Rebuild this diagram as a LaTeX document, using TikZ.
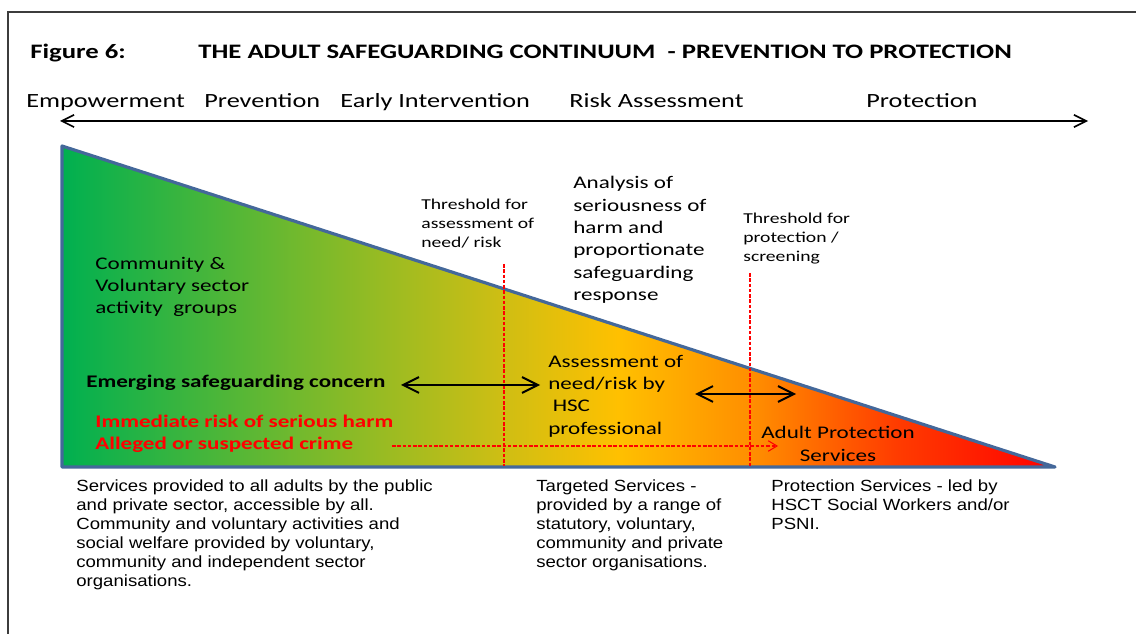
\documentclass[tikz,border=0pt]{standalone}
\usepackage{fontspec}
\setmainfont{Carlito}[FakeStretch=1.3]
\newfontfamily\arialfont{Liberation Sans}[FakeStretch=1.15]
\usetikzlibrary{arrows.meta}

\definecolor{rahmen}{RGB}{60,60,60}
\definecolor{kante}{RGB}{68,104,154}
\definecolor{gruen}{RGB}{0,176,80}
\definecolor{hellgruen}{RGB}{115,185,45}
\definecolor{oliv}{RGB}{205,190,20}
\definecolor{gold}{RGB}{255,192,0}
\definecolor{orangeton}{RGB}{255,140,0}
\definecolor{rotorange}{RGB}{255,60,0}
\definecolor{rot}{RGB}{255,0,0}

\pgfdeclarehorizontalshading{kontinuum}{100bp}{color(0bp)=(gruen); color(25bp)=(gruen);
  color(37bp)=(hellgruen); color(47bp)=(oliv); color(53bp)=(gold); color(60bp)=(orangeton);
  color(67bp)=(rotorange); color(75bp)=(rot); color(100bp)=(rot)}

\tikzset{
  titel/.style={font=\bfseries\fontsize{11.7}{13}\selectfont, inner sep=0pt},
  phase/.style={font=\fontsize{11.5}{13}\selectfont, inner sep=0pt},
  inhalt/.style={font=\fontsize{10.1}{12.7}\selectfont, align=left, inner sep=0pt},
  schwelle/.style={font=\fontsize{8.6}{10.8}\selectfont, align=left, inner sep=0pt},
  fett/.style={font=\bfseries\fontsize{10.1}{12.5}\selectfont, align=left, inner sep=0pt},
  dienst/.style={font=\arialfont\fontsize{9.2}{10.9}\selectfont, align=left, inner sep=0pt},
  schwellenlinie/.style={red, line width=0.6pt, dash pattern=on 2pt off 1pt},
  doppelpfeil/.style={{Straight Barb[length=9pt,width=9pt]}-{Straight Barb[length=9pt,width=9pt]}, line width=1.1pt},
}

\begin{document}
\begin{tikzpicture}[x=0.02cm,y=-0.02cm]
        \useasboundingbox (0,0) rectangle (1136,634);

        % Rahmen
        \coordinate (rahmenU) at (8,634);
        \coordinate (rahmenO) at (8,12);
        \coordinate (rahmenR) at (1136,12);
        \draw[rahmen, line width=1pt] (rahmenU) -- (rahmenO) -- (rahmenR);

        % Titel
        \node[titel, anchor=base west] (fig) at (30,59) {Figure 6:};
        \node[titel, anchor=base west] (ueberschrift) at (198,59) {THE ADULT SAFEGUARDING CONTINUUM\ \ - PREVENTION TO PROTECTION};

        % Phasen und Achse
        \foreach \x/\name/\txt in {26/emp/Empowerment, 204/prev/Prevention, 340/early/Early Intervention, 569/risk/Risk Assessment, 866/prot/Protection}
            \node[phase, anchor=base west] (\name) at (\x,108) {\txt};
        \coordinate (achseL) at (60,121);
        \coordinate (achseR) at (1088,121);
        \draw[{Straight Barb[length=7pt,width=7pt]}-{Straight Barb[length=7pt,width=7pt]}, line width=0.9pt] (achseL) -- (achseR);

        % Dreieck mit Farbverlauf
        \coordinate (spitze) at (62,146);
        \coordinate (linksunten) at (62,467);
        \coordinate (rechtsunten) at (1055,467);
        \shade[shading=kontinuum] (spitze) -- (linksunten) -- (rechtsunten) -- cycle;
        \draw[kante, line width=1.8pt, line join=round] (spitze) -- (linksunten) -- (rechtsunten) -- cycle;

        % Schwellen
        \coordinate (s1o) at (504,264);
        \coordinate (s1u) at (504,466);
        \coordinate (s2o) at (750,273);
        \coordinate (s2u) at (750,466);
        \draw[schwellenlinie] (s1o) -- (s1u);
        \draw[schwellenlinie] (s2o) -- (s2u);

        % Texte im Dreieck
        \node[inhalt, anchor=west] (gruppen) at (95,287) {Community \&\\Voluntary sector\\activity\ \ groups};
        \node[fett, anchor=west] (concern) at (86,383) {Emerging safeguarding concern};
        \node[fett, text=red, anchor=west] (harm) at (95,434) {Immediate risk of serious harm\\Alleged or suspected crime};
        \node[inhalt, anchor=west] (assess) at (548,396) {Assessment of\\need/risk by\\\hspace*{2.5pt}HSC\\professional};
        \node[inhalt, align=center] (aps) at (838,444) {Adult Protection\\Services};

        % Texte oberhalb
        \node[schwelle, anchor=west] (schwelle1) at (421,224) {Threshold for\\assessment of\\need/ risk};
        \node[inhalt, anchor=west] (analyse) at (573,240) {Analysis of\\seriousness of\\harm and\\proportionate\\safeguarding\\response};
        \node[schwelle, anchor=west] (schwelle2) at (743,239) {Threshold for\\protection /\\screening};

        % Pfeile
        \coordinate (c1) at (401,385);
        \coordinate (c2) at (540,385);
        \coordinate (c3) at (695,394);
        \coordinate (c4) at (796,394);
        \draw[doppelpfeil] (c1) -- (c2);
        \draw[doppelpfeil] (c3) -- (c4);
        \coordinate (r1) at (392,446);
        \coordinate (r2) at (778,446);
        \draw[schwellenlinie, -{Straight Barb[length=5pt,width=6pt]}] (r1) -- (r2);

        % Dienste unten
        \node[dienst, anchor=north west] (universal) at (76,479) {Services provided to all adults by the public\\and private sector, accessible by all.\\Community and voluntary activities and\\social welfare provided by voluntary,\\community and independent sector\\organisations.};
        \node[dienst, anchor=north west] (targeted) at (536,479) {Targeted Services -\\provided by a range of\\statutory, voluntary,\\community and private\\sector organisations.};
        \node[dienst, anchor=north west] (protection) at (771,479) {Protection Services - led by\\HSCT Social Workers and/or\\PSNI.};
\end{tikzpicture}
\end{document}
